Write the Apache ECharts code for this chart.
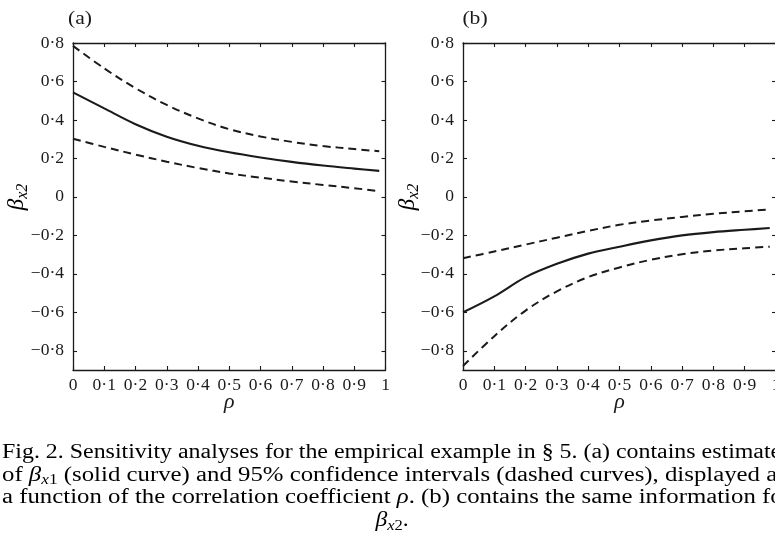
<!DOCTYPE html>
<html>
<head>
<meta charset="utf-8">
<script src="https://cdn.jsdelivr.net/npm/echarts@6/dist/echarts.min.js"></script>
<style>
html,body{margin:0;padding:0;background:#fff;}
#main{width:775px;height:548px;}
</style>
</head>
<body>
<div id="main"></div>
<script>
// ---- data ----
const rho = [0, 0.1, 0.2, 0.3, 0.4, 0.5, 0.6, 0.7, 0.8, 0.9, 0.98];
const aEstimate = [0.543, 0.460, 0.378, 0.313, 0.266, 0.232, 0.205, 0.182, 0.163, 0.147, 0.135];
const aUpper    = [0.785, 0.668, 0.565, 0.478, 0.408, 0.352, 0.314, 0.286, 0.264, 0.249, 0.237];
const aLower    = [0.302, 0.260, 0.220, 0.183, 0.150, 0.122, 0.100, 0.080, 0.062, 0.045, 0.030];
const bEstimate = [-0.600, -0.517, -0.417, -0.348, -0.295, -0.259, -0.226, -0.200, -0.183, -0.171, -0.162];
const bUpper    = [-0.319, -0.284, -0.248, -0.212, -0.177, -0.145, -0.123, -0.104, -0.088, -0.075, -0.065];
const bLower    = [-0.879, -0.724, -0.591, -0.491, -0.417, -0.367, -0.327, -0.298, -0.279, -0.267, -0.259];
const xTicks = [0, 0.1, 0.2, 0.3, 0.4, 0.5, 0.6, 0.7, 0.8, 0.9, 1];
const yTicks = [-0.8, -0.6, -0.4, -0.2, 0, 0.2, 0.4, 0.6, 0.8];
const panelLabels = ['(a)', '(b)'];

const FONT = '"Liberation Serif", "DejaVu Serif", serif';
const INK = '#1a1a1a';

function fmt(v) {
  const r = Math.round(v * 10) / 10;
  if (r === 0) return '0';
  if (r === 1) return '1';
  return String(r).replace('-', '\u2212').replace('.', '\u00b7');
}
function pairs(ys) { return rho.map((x, i) => [x, ys[i]]); }

const chart = echarts.init(document.getElementById('main'), null, {renderer: 'canvas'});

const grids = [
  {left: 73, top: 43, width: 312.5, height: 327},
  {left: 463, top: 43, width: 313, height: 327}
];

const xAxes = [], yAxes = [], series = [];
grids.forEach((g, gi) => {
  const axLine = {show: true, onZero: false, lineStyle: {color: INK, width: 1.3}};
  xAxes.push({
    type: 'value', gridIndex: gi, position: 'bottom', min: 0, max: 1, interval: 0.1,
    axisLine: axLine, splitLine: {show: false},
    axisTick: {show: true, inside: true, length: 4, lineStyle: {color: INK, width: 1.1}},
    axisLabel: {show: true, formatter: fmt, fontFamily: FONT, fontSize: 17.5, color: INK, margin: 6,
      showMaxLabel: true, showMinLabel: true},
    name: 'ρ', nameLocation: 'middle', nameGap: 21, nameMoveOverlap: false,
    nameTextStyle: {fontFamily: FONT, fontStyle: 'italic', fontSize: 22, color: INK, verticalAlign: 'top'}
  });
  xAxes.push({
    type: 'value', gridIndex: gi, position: 'top', min: 0, max: 1, interval: 0.1,
    axisLine: axLine, splitLine: {show: false},
    axisTick: {show: true, inside: true, length: 4, lineStyle: {color: INK, width: 1.1}},
    axisLabel: {show: false}
  });
  yAxes.push({
    type: 'value', gridIndex: gi, position: 'left', min: -0.9, max: 0.8,
    axisLine: axLine, splitLine: {show: false},
    axisTick: {show: true, inside: true, length: 4, customValues: yTicks, lineStyle: {color: INK, width: 1.1}},
    axisLabel: {show: true, customValues: yTicks, formatter: fmt, fontFamily: FONT, fontSize: 17.5, color: INK, margin: 9}
  });
  yAxes.push({
    type: 'value', gridIndex: gi, position: 'right', min: -0.9, max: 0.8,
    axisLine: axLine, splitLine: {show: false},
    axisTick: {show: true, inside: true, length: 4, customValues: yTicks, lineStyle: {color: INK, width: 1.1}},
    axisLabel: {show: false}
  });
});

function addSeries(gi, data, dashed) {
  series.push({
    type: 'line', xAxisIndex: gi * 2, yAxisIndex: gi * 2, data: pairs(data),
    showSymbol: false, smooth: 0.35, silent: true, animation: false,
    lineStyle: {color: INK, width: dashed ? 2.0 : 2.1, type: dashed ? [8, 5] : 'solid'}
  });
}
addSeries(0, aEstimate, false);
addSeries(0, aUpper, true);
addSeries(0, aLower, true);
addSeries(1, bEstimate, false);
addSeries(1, bUpper, true);
addSeries(1, bLower, true);

const richBeta = {
  b: {fontFamily: FONT, fontStyle: 'italic', fontSize: 23, color: INK, lineHeight: 28, verticalAlign: 'middle'},
  s: {fontFamily: FONT, fontStyle: 'italic', fontSize: 16, color: INK, lineHeight: 28, verticalAlign: 'bottom'},
  n: {fontFamily: FONT, fontStyle: 'italic', fontSize: 16, color: INK, lineHeight: 28, verticalAlign: 'bottom'}
};
const CF = 20;
const capRich = {
  t: {fontFamily: FONT, fontSize: CF, color: INK, lineHeight: 24, verticalAlign: 'middle'},
  bl: {fontFamily: FONT, fontSize: CF, color: '#1a3fd0', lineHeight: 24, verticalAlign: 'middle'},
  gi: {fontFamily: FONT, fontStyle: 'italic', fontSize: CF, color: INK, lineHeight: 24, verticalAlign: 'middle'},
  si: {fontFamily: FONT, fontStyle: 'italic', fontSize: 14, color: INK, lineHeight: 24, verticalAlign: 'bottom'},
  sn: {fontFamily: FONT, fontSize: 14, color: INK, lineHeight: 24, verticalAlign: 'bottom'}
};

function capLine(text, y, x, sx, align) {
  return {type: 'text', x: x, y: y, scaleX: sx, silent: true,
    style: {text: text, rich: capRich, align: align || 'left', verticalAlign: 'middle'}};
}

const graphics = [
  {type: 'text', x: 80, y: 19, silent: true, scaleX: 1.2,
   style: {text: panelLabels[0], fontFamily: FONT, fontSize: 18, fill: INK, align: 'center', verticalAlign: 'middle'}},
  {type: 'text', x: 475, y: 19, silent: true, scaleX: 1.2,
   style: {text: panelLabels[1], fontFamily: FONT, fontSize: 18, fill: INK, align: 'center', verticalAlign: 'middle'}},
  {type: 'text', x: 17, y: 197, rotation: Math.PI / 2, silent: true,
   style: {text: '{b|β}{s|x}{n|2}', rich: richBeta, align: 'center', verticalAlign: 'middle'}},
  {type: 'text', x: 408, y: 197, rotation: Math.PI / 2, silent: true,
   style: {text: '{b|β}{s|x}{n|2}', rich: richBeta, align: 'center', verticalAlign: 'middle'}},
  capLine('{t|Fig. 2. Sensitivity analyses for the empirical example in § }{bl|5}{t|. (a) contains estimates}', 453, 2, 1.195),
  capLine('{t|of }{gi|β}{si|x}{sn|1}{t| (solid curve) and 95% confidence intervals (dashed curves), displayed as}', 475.5, 2, 1.24),
  capLine('{t|a function of the correlation coefficient }{gi|ρ}{t|. (b) contains the same information for}', 498, 2, 1.24),
  capLine('{gi|β}{si|x}{sn|2}{t|.}', 521, 392, 1.18, 'center')
];

chart.setOption({
  animation: false,
  backgroundColor: '#fff',
  grid: grids.map(g => Object.assign({containLabel: false, outerBoundsMode: 'none'}, g)),
  xAxis: xAxes,
  yAxis: yAxes,
  series: series,
  graphic: graphics
});
</script>
</body>
</html>
